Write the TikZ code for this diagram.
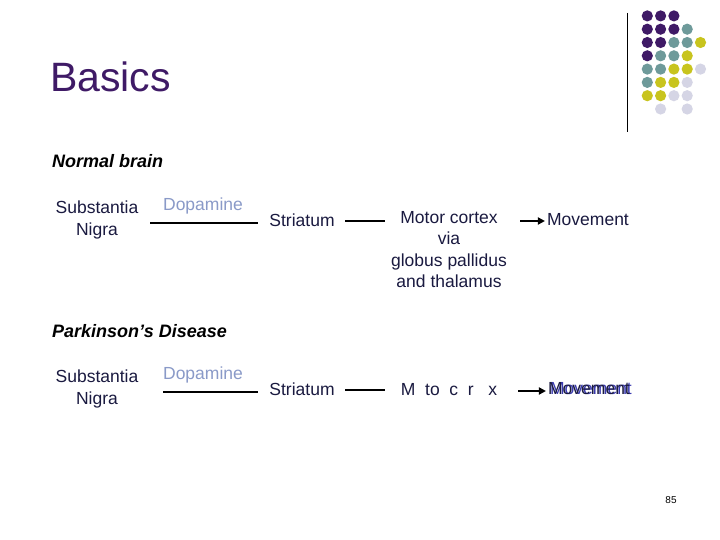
\documentclass[tikz,border=0pt]{standalone}
\usepackage{fontspec}
\setmainfont{Liberation Sans}
\usetikzlibrary{arrows.meta}
\definecolor{pur}{HTML}{3F1A66}
\definecolor{tea}{HTML}{6E9A9A}
\definecolor{yel}{HTML}{C8C41E}
\definecolor{lav}{HTML}{D5D5E5}
\definecolor{navy}{HTML}{1A1A40}
\definecolor{dop}{HTML}{8A9AC8}
\definecolor{mblue}{HTML}{3A3AB0}
\begin{document}
\begin{tikzpicture}[x=1pt,y=-1pt,
  txt/.style={font=\fontsize{17.5}{21.5}\selectfont,text=navy,inner sep=0pt,align=center},
  hd/.style={font=\fontsize{18}{21}\selectfont\bfseries\itshape,text=black,inner sep=0pt,anchor=west},
  ln/.style={line width=2.2pt,black},
  ar/.style={line width=2.2pt,black,-{Triangle[length=7pt,width=7pt]},shorten >=2pt}]
\useasboundingbox[fill=white] (0,0) rectangle (720,540);
\draw[line width=0.8pt] (627,13) -- (627,132);
\foreach \r/\row in {1/{pur,pur,pur,white,white},2/{pur,pur,pur,tea,white},3/{pur,pur,tea,tea,yel},4/{pur,tea,tea,yel,white},5/{tea,tea,yel,yel,lav},6/{tea,yel,yel,lav,white},7/{yel,yel,lav,lav,white},8/{white,lav,white,lav,white}}{
  \foreach \c [count=\i] in \row {
    \fill[\c] ({634+13.3*\i},{2.6+13.3*\r}) circle (5.6);
  }}
\node[anchor=west,inner sep=0pt,text=pur,font=\fontsize{41}{46}\selectfont] (title) at (50,77) {Basics};
\node[hd] (h1) at (52,161) {Normal brain};
\node[txt] (sn1) at (97,220) {Substantia\\Nigra};
\node[txt,text=dop] (d1) at (203,206) {Dopamine};
\node[txt] (st1) at (302,220) {Striatum};
\node[txt,anchor=north] (mc1) at (449,211) {Motor cortex\\via\\globus pallidus\\and thalamus};
\node[txt] (mv1) at (588,220) {Movement};
\coordinate (a1) at (150,223); \coordinate (b1) at (258,223);
\draw[ln] (a1) -- (b1);
\draw[ln] (345,221) -- (385,221);
\draw[ar] (520,221) -- (520,221 -| mv1.west);
\node[hd] (h2) at (52,331) {Parkinson’s Disease};
\node[txt] (sn2) at (97,389) {Substantia\\Nigra};
\node[txt,text=dop] (d2) at (203,375) {Dopamine};
\node[txt] (st2) at (302,389) {Striatum};
\node[txt] (mc2) at (449,390) {M\ \ to\ \ c\ \ r\ \ \ x};
\node[txt,text=mblue] (mv2b) at (591,389) {Movement};
\node[txt] (mv2) at (589,389) {Movement};
\draw[ln] (163,392) -- (258,392);
\draw[ln] (345,390) -- (385,390);
\draw[ar] (518,391) -- (518,391 -| mv2.west);
\node[font=\fontsize{10}{11}\selectfont,inner sep=0pt] (pg) at (671,500) {85};
\end{tikzpicture}
\end{document}
